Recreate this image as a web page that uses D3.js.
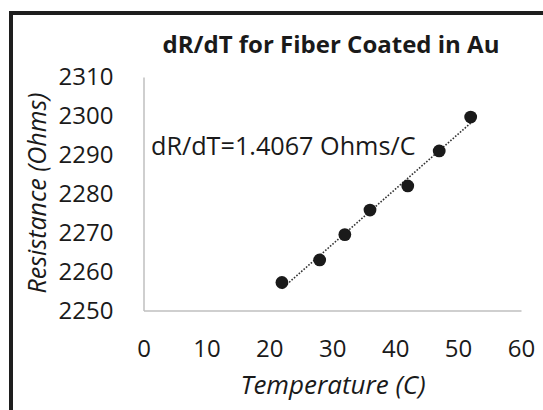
<!DOCTYPE html>
<html>
<head>
<meta charset="utf-8">
<script src="https://cdn.jsdelivr.net/npm/d3@7"></script>
<style>
  html, body { margin: 0; padding: 0; background: #fff; }
  svg { display: block; }
  text { font-family: "Open Sans", "Noto Sans", sans-serif; fill: #1a1a1a; }
</style>
</head>
<body>
<svg id="chart" width="543" height="410"></svg>
<script>
const temperature = [22, 28, 32, 36, 42, 47, 52];
const resistance = [2257.2, 2263.0, 2269.5, 2275.8, 2282.0, 2291.0, 2299.7];
const xTicks = [0, 10, 20, 30, 40, 50, 60];
const yTicks = [2250, 2260, 2270, 2280, 2290, 2300, 2310];
const titleText = "dR/dT for Fiber Coated in Au";
const xTitle = "Temperature (C)";
const yTitle = "Resistance (Ohms)";
const annotation = "dR/dT=1.4067 Ohms/C";

const svg = d3.select("#chart");

// outer frame (partially visible)
svg.append("rect")
  .attr("x", 11).attr("y", 13)
  .attr("width", 700).attr("height", 600)
  .attr("fill", "none").attr("stroke", "#1e1e1e").attr("stroke-width", 4);

const x = d3.scaleLinear().domain([0, 60]).range([143.5, 521]);
const y = d3.scaleLinear().domain([2250, 2310]).range([310.5, 77]);

// axes
const xAxis = svg.append("g").attr("transform", `translate(0,${y(2250)})`)
  .call(d3.axisBottom(x).tickValues(xTicks).tickSize(0).tickPadding(29.5).tickFormat(d3.format("d")));
xAxis.select(".domain").attr("stroke", "#bfbfbf").attr("stroke-width", 1.5);
xAxis.selectAll("text").style("font-size", "24px").attr("fill", "#1a1a1a");

const yAxis = svg.append("g").attr("transform", `translate(${x(0)},0)`)
  .call(d3.axisLeft(y).tickValues(yTicks).tickSize(0).tickPadding(30).tickFormat(d3.format("d")));
yAxis.select(".domain").attr("stroke", "#bfbfbf").attr("stroke-width", 1.5);
yAxis.selectAll("text").style("font-size", "24px").attr("fill", "#1a1a1a");

// trendline (least squares)
const n = temperature.length;
const mx = d3.mean(temperature), my = d3.mean(resistance);
let sxy = 0, sxx = 0;
for (let i = 0; i < n; i++) { sxy += (temperature[i]-mx)*(resistance[i]-my); sxx += (temperature[i]-mx)**2; }
const slope = sxy / sxx, icpt = my - slope * mx;
const t0 = d3.min(temperature), t1 = d3.max(temperature);
svg.append("line")
  .attr("x1", x(t0)).attr("y1", y(icpt + slope*t0))
  .attr("x2", x(t1)).attr("y2", y(icpt + slope*t1))
  .attr("stroke", "#333").attr("stroke-width", 1.6)
  .attr("stroke-dasharray", "1.6,1.6");

// points
svg.append("g").selectAll("circle")
  .data(temperature.map((t, i) => ({t, r: resistance[i]})))
  .join("circle")
  .attr("cx", d => x(d.t)).attr("cy", d => y(d.r))
  .attr("r", 6.4).attr("fill", "#1a1a1a");

// title
svg.append("text").attr("x", 331).attr("y", 53).attr("text-anchor", "middle")
  .style("font-size", "24px").style("font-weight", "bold").text(titleText);

// annotation
svg.append("text").attr("x", 151).attr("y", 155)
  .style("font-size", "25.2px").text(annotation);

// axis titles
svg.append("text").attr("x", 333).attr("y", 394).attr("text-anchor", "middle")
  .style("font-size", "26px").style("font-style", "italic").text(xTitle);
svg.append("text").attr("transform", "translate(46,193) rotate(-90)").attr("text-anchor", "middle")
  .style("font-size", "25px").style("font-style", "italic").text(yTitle);
</script>
</body>
</html>
